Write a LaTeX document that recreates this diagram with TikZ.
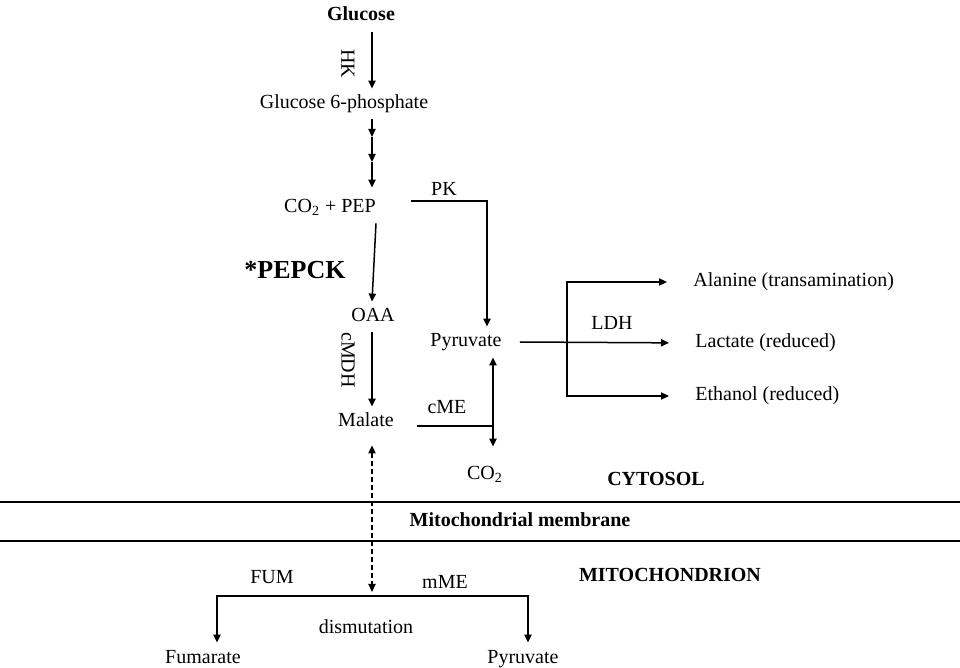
\documentclass[tikz,border=0pt]{standalone}
\usepackage{fontspec}
\setmainfont{Liberation Serif}
\usetikzlibrary{arrows.meta}
\begin{document}
\begin{tikzpicture}[x=0.5pt,y=-0.5pt]
        \tikzset{
        met node/.style={inner xsep=0,inner ysep=3pt,text height=7pt,text depth=2pt,font=\fontsize{10}{12}\selectfont},
        bold node/.style={inner sep=0,font=\fontsize{10}{12}\selectfont\bfseries},
        enz label/.style={inner sep=0,font=\fontsize{10}{12}\selectfont},
        met edge/.style={-{Triangle[length=4pt,width=3.6pt]},line width=0.75pt},
        out edge/.style={met edge,shorten >=13pt},
        link edge/.style={{Triangle[length=4pt,width=3.6pt]}-{Triangle[length=4pt,width=3.6pt]},line width=0.65pt,dash pattern=on 2.5pt off 1.5pt}
        }
        \useasboundingbox (0,0) rectangle (960,668);
        % metabolites
        \node[bold node] (glc) at (361,14) {Glucose};
        \node[met node] (g6p) at (344,104) {Glucose 6-phosphate};
        \node[met node] (pep) at (330,208) {CO\textsubscript{2} + PEP};
        \node[met node] (oaa) at (373,317) {OAA};
        \node[met node] (pyr) at (466,342) {Pyruvate};
        \node[met node] (mal) at (366,422) {Malate};
        \node[met node] (co2) at (485,475) {CO\textsubscript{2}};
        \node[met node,anchor=west] (ala) at (693,282) {Alanine (transamination)};
        \node[met node,anchor=west] (lac) at (695,343) {Lactate (reduced)};
        \node[met node,anchor=west] (eth) at (695,396) {Ethanol (reduced)};
        \node[met node,anchor=base] (fum) at (203,663) {Fumarate};
        \node[met node,anchor=base] (mpyr) at (523,663) {Pyruvate};
        % enzymes and compartments
        \node[enz label,rotate=-90] (hk) at (348,64) {HK};
        \node[enz label] (pk) at (444,189) {PK};
        \node[bold node,font=\fontsize{13}{15}\selectfont\bfseries] (pepck) at (295,270) {*PEPCK};
        \node[enz label,rotate=-90] (cmdh) at (348,360) {cMDH};
        \node[enz label] (cme) at (447,407) {cME};
        \node[enz label] (ldh) at (612,323) {LDH};
        \node[enz label] (fumase) at (272,577) {FUM};
        \node[enz label] (mme) at (445,582) {mME};
        \node[enz label] (dis) at (366,627) {dismutation};
        \node[bold node] (cyt) at (656,479) {CYTOSOL};
        \node[bold node] (mem) at (520,520) {Mitochondrial membrane};
        \node[bold node] (mit) at (670,575) {MITOCHONDRION};
        % junctions
        \coordinate (s1) at (372,137);
        \coordinate (s2) at (372,162);
        \coordinate (cme j) at (493,426);
        \coordinate (ldh j) at (567,343);
        \coordinate (bar) at (372,596);
        % membrane
        \draw[line width=0.7pt] (0,502) -- (960,502);
        \draw[line width=0.7pt] (0,541) -- (960,541);
        
        \path[draw]
        ([xshift=5.5pt]glc.south) edge[met edge,shorten <=5.5pt] ([xshift=14pt]g6p.north)
        ([xshift=14pt]g6p.south) edge[met edge] (s1)
        (s1) edge[met edge] (s2)
        (s2) edge[met edge,shorten >=2.5pt] ([xshift=21pt]pep.north)
        ([xshift=23pt]pep.south) edge[met edge] ([xshift=-0.5pt]oaa.north)
        ([xshift=-0.5pt]oaa.south) edge[met edge] ([xshift=3pt]mal.north)
        ([xshift=9pt]pyr.east) edge[out edge] (lac.west)
        (cme j) edge[met edge] (pyr.south -| cme j)
        (cme j) edge[met edge,shorten >=6.5pt] (co2.north -| cme j)
        ([xshift=3pt]mal.south) edge[link edge,shorten <=4pt,shorten >=2pt] (bar)
        ;
        \draw[met edge] ([shift={(17.5pt,3.5pt)}]pep.east) -| ([xshift=10.5pt]pyr.north);
        \draw[line width=0.75pt] ([shift={(11.5pt,-2pt)}]mal.east) -- (cme j);
        \draw[out edge] (ldh j) |- (ala.west);
        \draw[out edge] (ldh j) |- (eth.west);
        \draw[met edge] (bar) -| ([xshift=7pt]fum.north);
        \draw[met edge] (bar) -| ([xshift=2.5pt]mpyr.north);
    \end{tikzpicture}
\end{document}
